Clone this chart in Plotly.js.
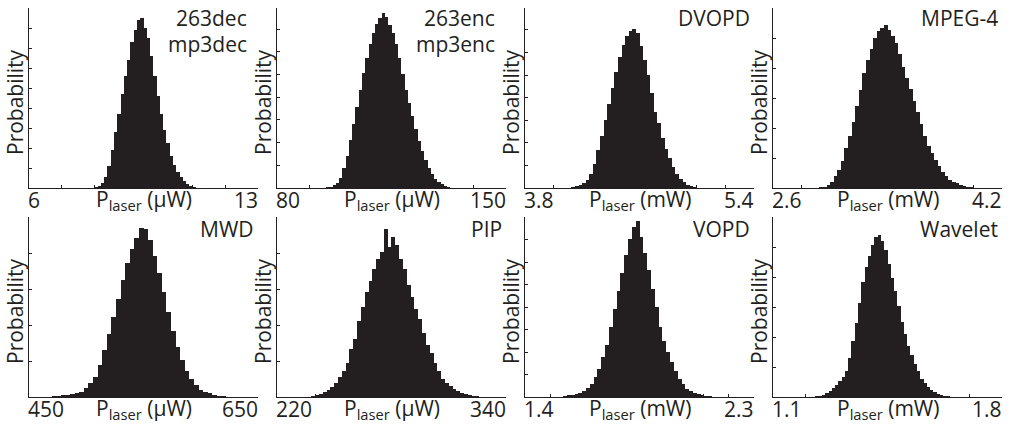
<!DOCTYPE html>
<html><head><meta charset="utf-8">
<script src="https://cdn.plot.ly/plotly-3.0.1.min.js"></script>
<style>html,body{margin:0;padding:0;background:#fff}#chart{width:1012px;height:429px}</style>
</head><body><div id="chart"></div>
<script>
// ---- data ----
const panelNames = [["263dec","mp3dec"],["263enc","mp3enc"],["DVOPD"],["MPEG-4"],["MWD"],["PIP"],["VOPD"],["Wavelet"]];
const units = ["μW","μW","mW","mW","μW","μW","mW","mW"];
const xMin = [6, 80, 3.8, 2.6, 450, 220, 1.4, 1.1];
const xMax = [13, 150, 5.4, 4.2, 650, 340, 2.3, 1.8];
const xTickStep = [1, 10, 0.2, 0.2, 50, 20, 0.1, 0.1];
const yTickStep = [20, 22.7, 22.6, 30, 36, 36, 22.5, 30];
const binStart = [7.9, 94, 4.1, 2.9, 466, 236, 1.55, 1.22];
const binWidth = [0.1, 1, 0.025, 0.025, 4, 2, 0.015, 0.01];

const prob263dec = [0.3,0.8,2,5,11,22,38,56,74,94,112,128,146,158,168,170,160,150,132,112,92,74,58,45,32,23,16,11,7,4,2,1,0.3];
const prob263enc = [0.5,1,1.5,3,5,10,20,32,48,64,81,98,115,130,144,155,164,170,175,171,163,155,144,130,114,98,85,72,59,47,37,28,20,14,9,6,4,2.5,1.5,0.5];
const probDVOPD = [0.5,1,2,3,5,8,14,24,38,52,68,84,100,116,131,143,152,157,159,155,142,128,113,95,76,65,50,39,30,21,14,9,6,3.5,2,1,0.5,0.3];
const probMPEG4 = [0.5,1,1.5,3,6,12,18,27,40,52,66,82,98,115,128,139,150,157,160,163,158,152,145,134,121,110,99,87,76,64,52,42,35,28,22,16,12,8,6,5,3.5,2.5,1.5,0.8];
const probMWD = [0.5,1,1.5,2,2.5,3,4,5.5,9,14,20,32,47,63,80,98,117,134,148,159,169,168,157,141,124,105,85,66,50,37,26,18,12,7.5,5,4,2.5,1.5,0.8];
const probPIP = [0.5,1,2,3,5,7,10,14,20,26,34,48,58,76,90,105,116,128,138,145,168,150,160,152,138,128,112,100,88,78,64,52,44,34,26,18,14,11,8,6,4,3,2,1.5,1,0.5];
const probVOPD = [1,2,2,3,4,6,9,13,20,28,40,52,70,88,106,124,142,158,170,176,160,144,127,108,90,70,56,45,35,26,18,13,8,6,4,3,2,1.5,1,0.5];
const probWavelet = [0.5,1,1.5,2.5,4,6,9,12,16,20,26,39,56,74,94,115,130,141,152,160,162,156,147,133,119,106,91,75,63,51,42,33,26,18,14,10,7,5,3.5,2.5,1.5,0.8];
const allProbs = [prob263dec, prob263enc, probDVOPD, probMPEG4, probMWD, probPIP, probVOPD, probWavelet];

// ---- layout geometry (pixels) ----
const W = 1012, H = 429;
const colLeft = [29, 277, 525, 773];
const panelW = 229;
const rowTop = [8, 217];
const panelH = 180;
const fx = p => p / W;
const fy = p => 1 - p / H;
const FONT = "Open Sans";
const INK = "#231f20";

const traces = [], annotations = [];
const layout = {
  width: W, height: H, margin: {l:0, r:0, t:0, b:0},
  paper_bgcolor: "#fff", plot_bgcolor: "#fff",
  showlegend: false, bargap: 0,
  font: {family: FONT, size: 21, color: INK},
  annotations: annotations
};

for (let i = 0; i < 8; i++) {
  const col = i % 4, row = Math.floor(i / 4);
  const k = i + 1;
  const xa = k === 1 ? "x" : "x" + k, ya = k === 1 ? "y" : "y" + k;
  const L = colLeft[col], T = rowTop[row], R = L + panelW, B = T + panelH;
  traces.push({
    type: "bar", xaxis: xa, yaxis: ya,
    x0: binStart[i] + binWidth[i] / 2, dx: binWidth[i],
    y: allProbs[i], width: binWidth[i] * 1.04,
    marker: {color: INK, line: {width: 0}},
    hoverinfo: "skip"
  });
  const axBase = {showgrid: false, zeroline: false, showline: true, linecolor: INK, linewidth: 1,
    ticks: "inside", ticklen: 3, tickwidth: 1, tickcolor: INK, showticklabels: false,
    tickmode: "linear", tick0: 0, fixedrange: true, mirror: false};
  layout[k === 1 ? "xaxis" : "xaxis" + k] = Object.assign({}, axBase, {
    domain: [fx(L), fx(R)], anchor: ya, range: [xMin[i], xMax[i]],
    tick0: xMin[i], dtick: xTickStep[i]
  });
  layout[k === 1 ? "yaxis" : "yaxis" + k] = Object.assign({}, axBase, {
    domain: [fy(B), fy(T)], anchor: xa, range: [0, 180], dtick: yTickStep[i]
  });
  // end tick labels
  annotations.push({xref: xa, yref: "paper", x: xMin[i], y: fy(B + 12), xanchor: "left", yanchor: "middle",
    text: String(xMin[i]), showarrow: false, xshift: -3});
  annotations.push({xref: xa, yref: "paper", x: xMax[i], y: fy(B + 12), xanchor: "right", yanchor: "middle",
    text: String(xMax[i]), showarrow: false, xshift: 2});
  // axis title
  annotations.push({xref: "paper", yref: "paper", x: fx((L + R) / 2), y: fy(B + 12), xanchor: "center", yanchor: "middle",
    text: "P<sub>laser</sub> (" + units[i] + ")", showarrow: false});
  // y title
  annotations.push({xref: "paper", yref: "paper", x: fx(L - 14), y: fy((T + B) / 2 + 4), xanchor: "center", yanchor: "middle",
    text: "Probability", textangle: -90, showarrow: false});
  // name labels
  const names = panelNames[i];
  const rightPad = names.length > 1 ? 9 : 2;
  names.forEach((nm, j) => {
    annotations.push({xref: "paper", yref: "paper", x: fx(R - rightPad), y: fy(T + 10 + j * 26 + (row ? 2 : 0)),
      xanchor: "right", yanchor: "middle", text: nm, showarrow: false});
  });
}

Plotly.newPlot("chart", traces, layout, {staticPlot: true, displayModeBar: false});
</script></body></html>
